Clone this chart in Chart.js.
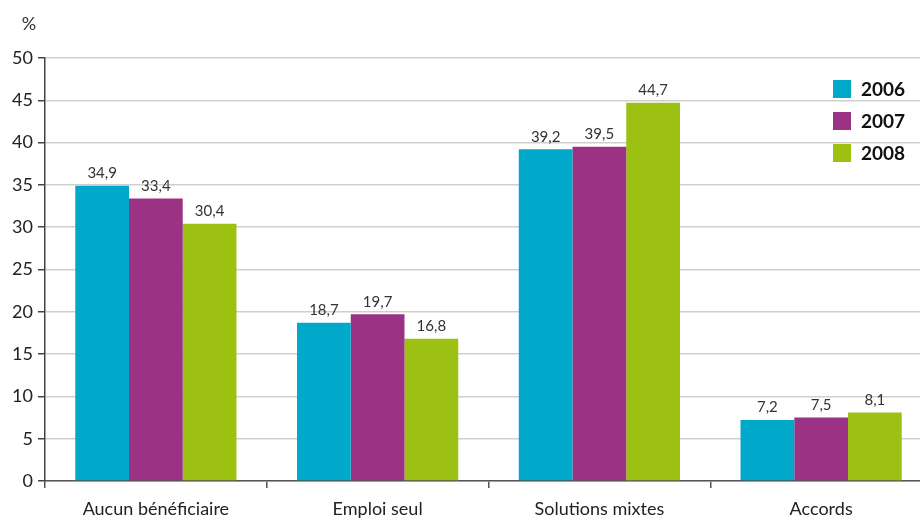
<!DOCTYPE html>
<html><head><meta charset="utf-8">
<script src="https://cdn.jsdelivr.net/npm/chart.js@4/dist/chart.umd.min.js"></script>
<style>
html,body{margin:0;padding:0;background:#fff;overflow:hidden;}
#wrap{width:933px;height:520px;}
</style></head>
<body><div id="wrap"><canvas id="c" width="933" height="520"></canvas></div>
<script>
const categories = ["Aucun bénéficiaire", "Emploi seul", "Solutions mixtes", "Accords"];
const years = ["2006", "2007", "2008"];
const values2006 = [34.9, 18.7, 39.2, 7.2];
const values2007 = [33.4, 19.7, 39.5, 7.5];
const values2008 = [30.4, 16.8, 44.7, 8.1];
const yTicks = [0, 5, 10, 15, 20, 25, 30, 35, 40, 45, 50];
const colors = ["#00A8C9", "#9B3283", "#9CC113"];
const FONT = "Lato, 'Open Sans', sans-serif";

const fmt = v => v.toFixed(1).replace('.', ',');

const extras = {
  id: 'extras',
  afterDatasetsDraw(chart) {
    const ctx = chart.ctx;
    ctx.save();
    // value labels
    ctx.font = "15px " + FONT;
    ctx.fillStyle = "#333";
    ctx.textAlign = "center";
    ctx.textBaseline = "bottom";
    chart.data.datasets.forEach((ds, i) => {
      const meta = chart.getDatasetMeta(i);
      meta.data.forEach((bar, j) => {
        ctx.fillText(fmt(ds.data[j]), bar.x, bar.y - 5);
      });
    });
    // percent sign
    ctx.font = "18px " + FONT;
    ctx.textAlign = "center";
    ctx.textBaseline = "middle";
    ctx.fillText("%", 29, 24);
    // legend
    chart.data.datasets.forEach((ds, i) => {
      const y = 89 + i * 32;
      ctx.fillStyle = ds.backgroundColor;
      ctx.fillRect(833, y - 9, 18, 18);
      ctx.fillStyle = "#111";
      ctx.font = "bold 19px " + FONT;
      ctx.textAlign = "left";
      ctx.textBaseline = "middle";
      ctx.fillText(ds.label, 861, y + 1);
    });
    ctx.restore();
  }
};

new Chart(document.getElementById('c'), {
  type: 'bar',
  data: {
    labels: categories,
    datasets: [
      { label: years[0], data: values2006, backgroundColor: colors[0] },
      { label: years[1], data: values2007, backgroundColor: colors[1] },
      { label: years[2], data: values2008, backgroundColor: colors[2] }
    ]
  },
  options: {
    responsive: false,
    animation: false,
    devicePixelRatio: 1,
    layout: { padding: { top: 58, right: 1, left: 0, bottom: 0 } },
    datasets: { bar: { categoryPercentage: 0.727, barPercentage: 1.0 } },
    plugins: { legend: { display: false }, tooltip: { enabled: false } },
    scales: {
      x: {
        grid: { offset: true, drawOnChartArea: false, drawTicks: true, tickLength: 7, color: "#555", lineWidth: 1.5 },
        border: { color: "#555", width: 1.5 },
        ticks: { color: "#222", font: { family: FONT, size: 18 }, padding: 10, maxRotation: 0 },
        afterFit(s) { s.height = 39; }
      },
      y: {
        min: 0, max: 50,
        afterBuildTicks(s) { s.ticks = yTicks.map(v => ({ value: v })); },
        grid: { color: "#cfcfcf", lineWidth: 1.5, tickLength: 7, tickColor: "#444" },
        border: { color: "#444", width: 1.5 },
        ticks: { color: "#222", font: { family: FONT, size: 18 }, padding: 5 },
        afterFit(s) { s.width = 45; }
      }
    }
  },
  plugins: [extras]
});
</script>
</body></html>
